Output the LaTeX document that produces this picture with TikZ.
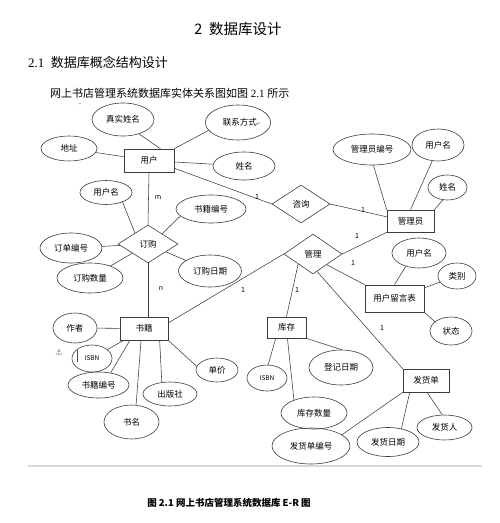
\documentclass[tikz,border=0pt]{standalone}
\usepackage{fontspec}
\setmainfont{Liberation Serif}
\newfontfamily\cjk{Noto Sans CJK SC}
\newfontfamily\sym{DejaVu Sans}
\usetikzlibrary{shapes.geometric}
\definecolor{linegray}{HTML}{3C3C3C}
\definecolor{rulegray}{HTML}{D8D8D8}
\definecolor{anchorblue}{HTML}{6F86B8}

\tikzset{
  entity/.style={draw=linegray, line width=0.6pt, rectangle, inner sep=0pt,
    font=\cjk\fontsize{8.5}{10}\selectfont},
  relation/.style={draw=linegray, line width=0.6pt, diamond, inner sep=0pt,
    minimum width=58pt, minimum height=39pt, font=\cjk\fontsize{8.5}{10}\selectfont},
  attr/.style={draw=linegray, line width=0.6pt, ellipse, inner sep=0pt,
    font=\cjk\fontsize{8.5}{10}\selectfont},
  small/.style={font=\cjk\fontsize{6.5}{7}\selectfont},
  card/.style={font=\cjk\fontsize{7}{8}\selectfont, inner sep=0pt},
  link/.style={draw=linegray, line width=0.55pt}
}

\begin{document}
\begin{tikzpicture}[x=1pt,y=-1pt]
\fill[white] (0,0) rectangle (500,523);
\useasboundingbox (0,0) rectangle (500,523);

% page text
\node[font=\cjk\fontsize{14.5}{16}\selectfont] (chap) at (238,29) {2\ \ 数据库设计};
\node[anchor=west, inner sep=0pt, font=\fontsize{13}{15}\selectfont] (sec) at (28,62)
  {2.1\ \ {\cjk 数据库概念结构设计}};
\node[anchor=west, inner sep=0pt, font=\fontsize{11}{13}\selectfont] (intro) at (50,93)
  {{\cjk 网上书店管理系统数据库实体关系图如图} 2.1 {\cjk 所示}};
\node[text=black!45, font=\sym\fontsize{4}{5}\selectfont] (mark) at (80,104) {↵};

% entities
\node[entity, minimum width=50pt, minimum height=23pt] (user) at (149,160.5) {用户};
\node[entity, minimum width=47pt, minimum height=22pt] (admin) at (410.5,221) {管理员};
\node[entity, minimum width=48pt, minimum height=23pt] (book) at (144,328.5) {书籍};
\node[entity, minimum width=39pt, minimum height=21pt] (stock) at (286.5,327.5) {库存\hspace{8pt}};
\node[entity, minimum width=59pt, minimum height=27pt] (msg) at (394.5,298.5) {用户留言表};
\node[entity, minimum width=46pt, minimum height=23pt] (ship) at (426,380.5) {发货单\hspace{6pt}};

% relations
\node[relation, minimum width=60pt, minimum height=38pt] (order) at (148,244) {订购};
\node[relation, minimum height=38pt] (consult) at (301,204) {咨询};
\node[relation, minimum height=40pt] (manage) at (313,254) {管理};

% user attributes
\node[attr, minimum width=62pt, minimum height=33pt] (realname) at (123,119.5) {真实姓名};
\node[attr, minimum width=63pt, minimum height=35pt] (contact) at (238,122.5)
  {\hspace{8pt}联系方式{\sym\fontsize{5}{6}\selectfont\color{black!55}↵}};
\node[attr, minimum width=56pt, minimum height=25pt] (addr) at (69,148.5) {地址};
\node[attr, minimum width=62pt, minimum height=28pt] (uname) at (244,166) {姓名};

% order attributes
\node[attr, minimum width=52pt, minimum height=24pt] (ouser) at (106,192.5) {用户名};
\node[attr, minimum width=70pt, minimum height=28pt] (obookno) at (211,209) {书籍编号};
\node[attr, minimum width=62pt, minimum height=30pt] (ono) at (71,248) {订单编号};
\node[attr, minimum width=66pt, minimum height=30pt] (oqty) at (90,278) {订购数量};
\node[attr, minimum width=63pt, minimum height=32pt] (odate) at (210,271) {订购日期};

% admin attributes
\node[attr, minimum width=78pt, minimum height=31pt] (adminno) at (372,149.5) {管理员编号};
\node[attr, minimum width=52pt, minimum height=32pt] (adminuser) at (438,145) {用户名};
\node[attr, minimum width=39pt, minimum height=25pt] (adminname) at (447.5,187.5) {姓名};

% message attributes
\node[attr, minimum width=54pt, minimum height=30pt] (msguser) at (419,253) {用户名};
\node[attr, minimum width=38pt, minimum height=26pt] (msgtype) at (457,276) {类别};
\node[attr, minimum width=42pt, minimum height=28pt] (msgstate) at (451,331) {状态};

% book attributes
\node[attr, minimum width=44pt, minimum height=30pt] (author) at (75,328) {作者};
\node[attr, small, minimum width=40pt, minimum height=27pt] (bisbn) at (92,358.5) {ISBN};
\node[attr, minimum width=61pt, minimum height=26pt] (bno) at (98.5,385) {书籍编号};
\node[attr, minimum width=55pt, minimum height=34pt] (btitle) at (131.5,422) {书名\hspace{10pt}};
\node[attr, minimum width=54pt, minimum height=24pt] (bpub) at (170,394) {出版社};
\node[attr, minimum width=42pt, minimum height=24pt] (bprice) at (217,370) {单价};

% stock attributes
\node[attr, small, minimum width=40pt, minimum height=26pt] (sisbn) at (267,378) {ISBN};
\node[attr, minimum width=66pt, minimum height=32pt] (sqty) at (314,413) {库存数量};
\node[attr, minimum width=64pt, minimum height=35pt] (sdate) at (341,367.5) {登记日期};

% ship attributes
\node[attr, minimum width=78pt, minimum height=36pt] (shipno) at (311,446) {发货单编号};
\node[attr, minimum width=62pt, minimum height=29pt] (shipdate) at (388,442) {发货日期};
\node[attr, minimum width=55pt, minimum height=25pt] (shipper) at (444.5,427.5) {发货人};

% attribute links
\draw[link] (realname.-42) -- (user.46);
\draw[link] (contact.195) -- (user.north east);
\draw[link] (addr) -- (user);
\draw[link] (uname) -- (user);
\draw[link] (ouser.-30) -- (order.140);
\draw[link] (obookno.193) -- (order.36);
\draw[link] (ono) -- (order);
\draw[link] (oqty) -- (order);
\draw[link] (odate) -- (order);
\draw[link] (adminno.-85) -- (admin.north west);
\draw[link] (adminuser.-110) -- (admin.north);
\draw[link] (adminname.-110) -- (admin.north east);
\draw[link] (msguser.-135) -- (msg.north);
\draw[link] (msgtype) -- (msg);
\draw[link] (msgstate.150) -- (msg.south east);
\draw[link] (author) -- (book);
\draw[link] (bisbn) -- (book);
\draw[link] (bno.45) -- (book.-140);
\draw[link] (btitle.75) -- (book.-104);
\draw[link] (bpub.125) -- (book.-37);
\draw[link] (bprice.170) -- (book.south east);
\draw[link] (sisbn.85) -- (stock.-135);
\draw[link] (sqty.147) -- (stock.-85);
\draw[link] (sdate.88) -- (stock.south east);
\draw[link] (shipno.20) -- (ship.south west);
\draw[link] (shipdate.45) -- (ship.-144);
\draw[link] (shipper.100) -- (ship.-85);

% relation links
\draw[link] (user.south) -- (order.north);
\draw[link] (order.south) -- (order.south |- book.north);
\draw[link] (user.-17) -- (consult.west);
\draw[link] (consult.east) -- (admin.170);
\draw[link] (manage.east) -- (admin.south west);
\draw[link] (manage.-38) -- (msg.north west);
\draw[link] (manage.-146) -- (stock.north);
\draw[link] (manage.-77) -- (ship.north west);
\draw[link] (book.13) -- (manage.west);

% cardinalities
\node[card] (um) at (158,198) {m};
\node[card] (bn) at (161,289) {n};
\node[card] (uc) at (257,197) {1};
\node[card] (ca) at (363,210) {1};
\node[card] (ma) at (357,236) {1};
\node[card] (mm) at (353,263) {1};
\node[card] (ms) at (297,290) {1};
\node[card] (mf) at (382,328) {1};
\node[card] (bm) at (243,290) {1};

% editor marks
\node[text=anchorblue, font=\sym\fontsize{8.5}{9}\selectfont] (anchor) at (59,352) {⚓};
\draw[black!70, line width=0.5pt] (77,350) -- (77,362);

% rule and caption
\coordinate (rulel) at (28,466);
\coordinate (ruler) at (482,466);
\draw[rulegray, line width=1.5pt] (rulel) -- (ruler);
\node[font=\cjk\bfseries\fontsize{9.5}{11}\selectfont] (caption) at (229,503)
  {图 2.1 网上书店管理系统数据库 E-R 图};
\end{tikzpicture}
\end{document}
